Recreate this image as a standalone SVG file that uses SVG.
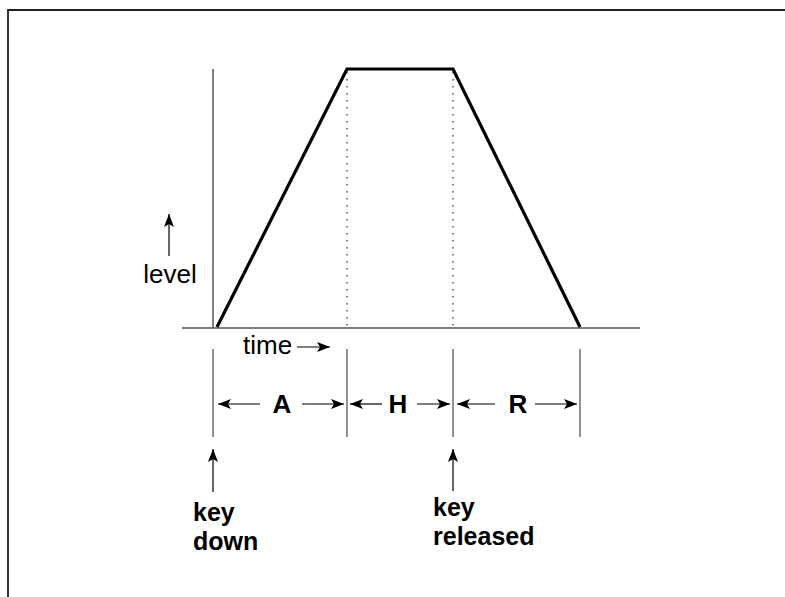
<svg xmlns="http://www.w3.org/2000/svg" width="785" height="597" viewBox="0 0 785 597">
<style>
.lbl{font-family:"Liberation Sans",Arial,Helvetica,sans-serif;font-size:26px;fill:#000}
.b{font-weight:bold}
.k{font-size:25px}
.ax{stroke:#555;stroke-width:1.5;fill:none}
.tick{stroke:#222;stroke-width:1;fill:none}
.arr{stroke:#000;stroke-width:1.2;fill:none}
</style>
<defs>
<marker id="ah" viewBox="0 0 13 10" refX="13" refY="5" markerWidth="13" markerHeight="10" markerUnits="userSpaceOnUse" orient="auto">
<path d="M0,0 L13,5 L0,10 L3,5 Z" fill="#000"/>
</marker>
</defs>
<rect width="785" height="597" fill="#fff"/>
<path d="M8,600 V10 H790" stroke="#222" stroke-width="1.8" fill="none"/>
<g id="axes">
<line class="ax" x1="213" y1="69" x2="213" y2="328"/>
<line class="ax" x1="182" y1="328" x2="640" y2="328"/>
</g>
<g id="envelope">
<polyline points="217,327 347,69 453,69 580,327" stroke="#000" stroke-width="3.2" fill="none" stroke-linejoin="miter"/>
<line x1="347" y1="72" x2="347" y2="328" stroke="#000" stroke-width="1" stroke-dasharray="1.5,5.5"/>
<line x1="453" y1="72" x2="453" y2="328" stroke="#000" stroke-width="1" stroke-dasharray="1.5,5.5"/>
</g>
<g id="ticks">
<line class="tick" x1="213" y1="349" x2="213" y2="437"/>
<line class="tick" x1="347" y1="349" x2="347" y2="437"/>
<line class="tick" x1="453" y1="349" x2="453" y2="437"/>
<line class="tick" x1="580" y1="349" x2="580" y2="437"/>
</g>
<g id="connectors">
<line class="arr" x1="260" y1="404" x2="218" y2="404" marker-end="url(#ah)"/>
<line class="arr" x1="302" y1="404" x2="344" y2="404" marker-end="url(#ah)"/>
<line class="arr" x1="382" y1="404" x2="350" y2="404" marker-end="url(#ah)"/>
<line class="arr" x1="417" y1="404" x2="450" y2="404" marker-end="url(#ah)"/>
<line class="arr" x1="495" y1="404" x2="457" y2="404" marker-end="url(#ah)"/>
<line class="arr" x1="535" y1="404" x2="577" y2="404" marker-end="url(#ah)"/>
<line class="arr" x1="297" y1="347" x2="330" y2="347" marker-end="url(#ah)"/>
<line class="arr" x1="169" y1="256" x2="169" y2="214" marker-end="url(#ah)"/>
<line class="arr" x1="213" y1="492" x2="213" y2="449" marker-end="url(#ah)"/>
<line class="arr" x1="453" y1="491" x2="453" y2="449" marker-end="url(#ah)"/>
</g>
<g id="labels">
<text class="lbl b" x="282" y="413" text-anchor="middle">A</text>
<text class="lbl b" x="398" y="413" text-anchor="middle">H</text>
<text class="lbl b" x="518" y="413" text-anchor="middle">R</text>
<text class="lbl" x="243" y="354">time</text>
<text class="lbl" x="170" y="283" text-anchor="middle">level</text>
<text class="lbl b k" x="193" y="521">key</text>
<text class="lbl b k" x="193" y="550">down</text>
<text class="lbl b k" x="433" y="516">key</text>
<text class="lbl b k" x="433" y="545">released</text>
</g>
</svg>
